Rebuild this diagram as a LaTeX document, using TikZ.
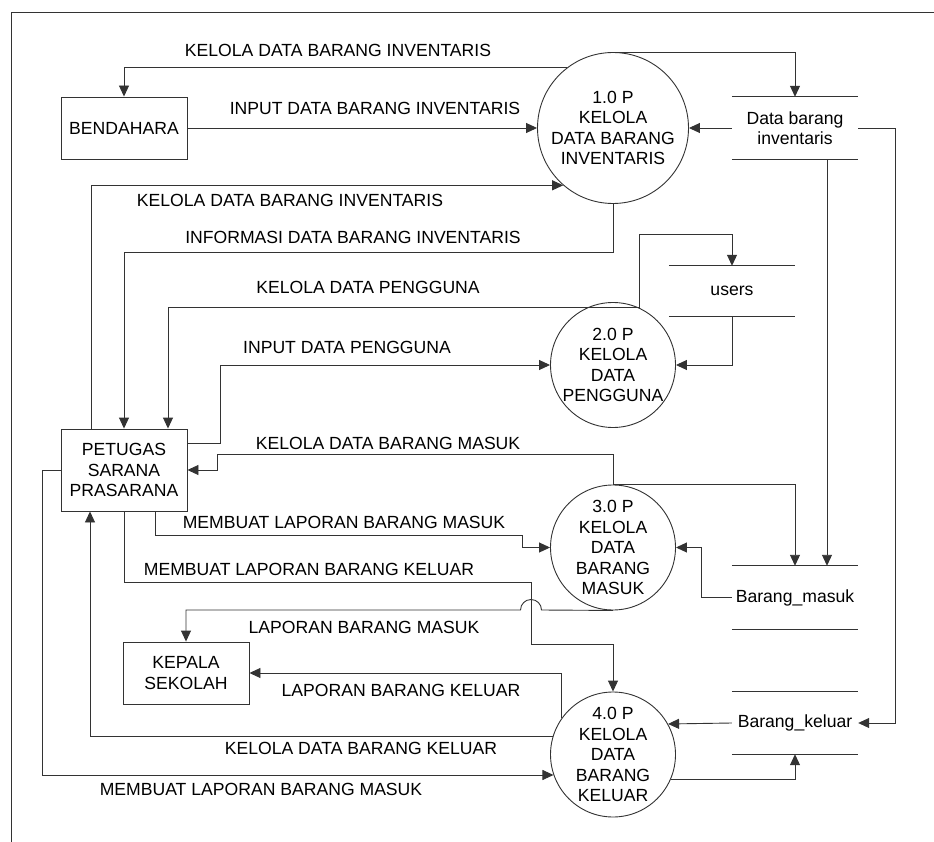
\documentclass[tikz,border=0pt]{standalone}
\usepackage{fontspec}
\setmainfont{Liberation Sans}
\usetikzlibrary{arrows.meta,calc}
\begin{document}
\begin{tikzpicture}[x=1pt,y=-1pt,
  every node/.style={font=\fontsize{17.6}{20.5}\selectfont},
  ln/.style={draw=black!80,line width=0.9pt},
  flow/.style={ln,-{Triangle[length=11pt,width=10pt]}},
  proc/.style={circle,ln,minimum size=125pt,inner sep=0pt,align=center},
  ent/.style={rectangle,ln,minimum width=126pt,minimum height=62pt,inner sep=0pt,align=center},
  store/.style={rectangle,minimum width=126pt,minimum height=62pt,inner sep=0pt,align=center},
  lbl/.style={inner sep=0pt}]
\useasboundingbox (0,0) rectangle (934,842);
% frame
\draw[ln] (934,12) -- (11,12) -- (11,842);

% entities
\node[ent] (bend) at (124,128) {BENDAHARA};
\node[ent,minimum height=82pt] (pet) at (124,470) {PETUGAS\\SARANA\\PRASARANA};
\node[ent] (kep) at (186,673) {KEPALA\\SEKOLAH};

% processes
\node[proc,minimum size=151pt] (p1) at (613,128) {1.0 P\\KELOLA\\DATA BARANG\\INVENTARIS};
\node[proc] (p2) at (613,365) {2.0 P\\KELOLA\\DATA\\PENGGUNA};
\node[proc] (p3) at (613,547.5) {3.0 P\\KELOLA\\DATA\\BARANG\\MASUK};
\node[proc] (p4) at (613,754.5) {4.0 P\\KELOLA\\DATA\\BARANG\\KELUAR};

% data stores
\node[store] (ds1) at (795,128) {Data barang\\inventaris};
\node[store,minimum height=50pt] (du) at (732,291) {users};
\node[store,minimum height=63pt] (dm) at (795,597.5) {Barang\_masuk};
\node[store] (dk) at (795,723) {Barang\_keluar};
\foreach \s in {ds1,du,dm,dk}{
  \draw[ln] (\s.north west) -- (\s.north east) (\s.south west) -- (\s.south east);
}

\coordinate (jx) at (531,610);

% flows
\draw[flow] (p1.127) -| (bend.north);
\draw[flow] (p1.north) -| (ds1.north);
\draw[flow] (bend.east) -- (p1.west);
\draw[flow] (ds1.west) -- (p1.east);
\draw[flow] (ds1.east) -- ++(37,0) |- (dk.east);
\draw[flow] ($(ds1.south)+(32,0)$) -- ($(dm.north)+(32,0)$);
\draw[flow] ($(pet.north west)+(31,0)$) |- (p1.229.5);
\draw[flow] (p1.south) -- ++(0,49) -| (pet.north);
\draw[flow] (p2.65) |- ($(du.north)+(0,-31)$) -- (du.north);
\draw[flow] (p2.65) -| ($(pet.north)+(44,0)$);
\draw[flow] ($(pet.east)+(0,-27)$) -- ++(33,0) |- (p2.west);
\draw[flow] (du.south) |- (p2.east);
\draw[flow] (p3.north) -- ++(0,-30) -| ($(pet.east)+(30,0)$) -- (pet.east);
\draw[flow] (p3.north) -| (dm.north);
\draw[flow] (dm.west) -- ++(-30,0) |- (p3.east);
\draw[flow] ($(pet.south)+(31,0)$) -- ++(0,24) -| ($(p3.west)+(-28,0)$) -- (p3.west);
\draw[flow] (pet.south) -- ++(0,71) -| ($(p4.north)+(-82,-47)$) -| (p4.north);
\draw[flow] (p3.south) -- ($(jx)+(10.5,0)$) arc[start angle=0,end angle=-180,radius=10.5] -| (kep.north);
\draw[flow] (p4.145) |- (kep.east);
\draw[flow] (p4.163) -| ($(pet.south)+(-34,0)$);
\draw[flow] (pet.west) -- ++(-18,0) |- (p4.199);
\draw[flow] (dk.west) -- (p4.29);
\draw[flow] (p4.-23) -| (dk.south);

% labels
\node[lbl] (l1) at (338,50) {KELOLA DATA BARANG INVENTARIS};
\node[lbl] (l2) at (375,108) {INPUT DATA BARANG INVENTARIS};
\node[lbl] (l3) at (290,200) {KELOLA DATA BARANG INVENTARIS};
\node[lbl] (l4) at (353,237) {INFORMASI DATA BARANG INVENTARIS};
\node[lbl] (l5) at (368,287) {KELOLA DATA PENGGUNA};
\node[lbl] (l6) at (347,347) {INPUT DATA PENGGUNA};
\node[lbl] (l7) at (388,443) {KELOLA DATA BARANG MASUK};
\node[lbl] (l8) at (344,522) {MEMBUAT LAPORAN BARANG MASUK};
\node[lbl] (l9) at (309,569) {MEMBUAT LAPORAN BARANG KELUAR};
\node[lbl] (l10) at (364,627) {LAPORAN BARANG MASUK};
\node[lbl] (l11) at (401,690) {LAPORAN BARANG KELUAR};
\node[lbl] (l12) at (361,748) {KELOLA DATA BARANG KELUAR};
\node[lbl] (l13) at (261,789) {MEMBUAT LAPORAN BARANG MASUK};
\end{tikzpicture}
\end{document}
